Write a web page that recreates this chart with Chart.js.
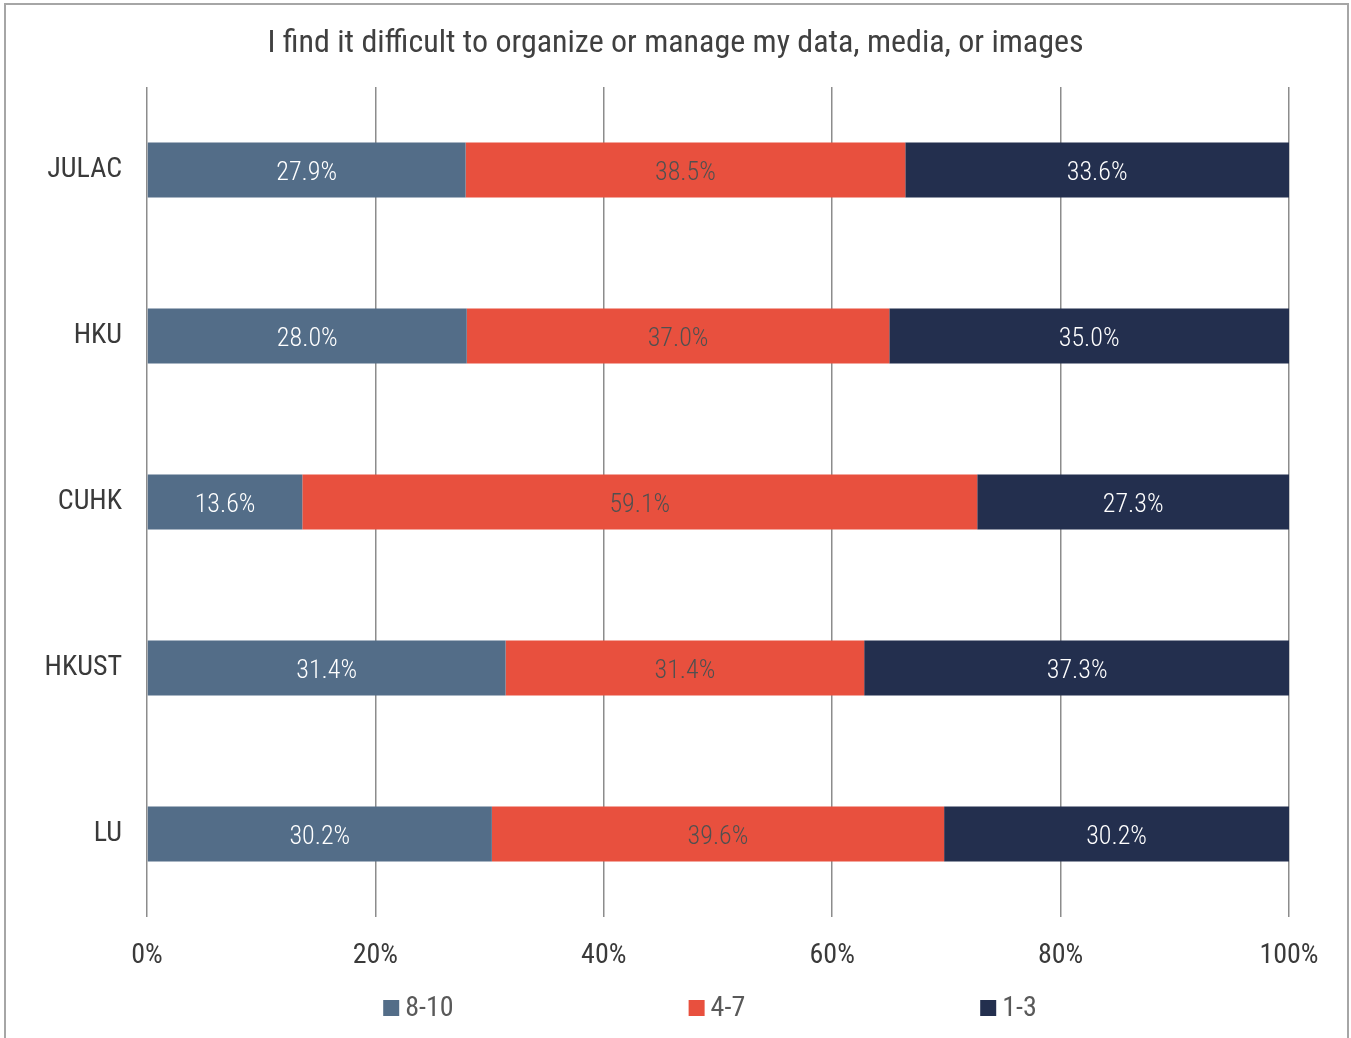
<!DOCTYPE html>
<html>
<head>
<meta charset="utf-8">
<script src="https://cdn.jsdelivr.net/npm/chart.js@4"></script>
<style>
  body { margin: 0; background: #fff; }
  #wrap { position: relative; width: 1351px; height: 1038px; overflow: hidden; }
  #frame { position: absolute; left: 4px; top: 3px; width: 1341px; height: 1100px;
           border: 2px solid #a6a6a6; pointer-events: none; }
</style>
</head>
<body>
<div id="wrap">
  <canvas id="myChart"></canvas>
  <div id="frame"></div>
</div>
<script>
const FONT = "'Roboto Condensed', 'DejaVu Sans Condensed', sans-serif";

const categories = ["JULAC", "HKU", "CUHK", "HKUST", "LU"];
const seriesNames = ["8-10", "4-7", "1-3"];
const high = [27.9, 28.0, 13.6, 31.4, 30.2];
const mid = [38.5, 37.0, 59.1, 31.4, 39.6];
const low = [33.6, 35.0, 27.3, 37.3, 30.2];
const tickLabels = ["0%", "20%", "40%", "60%", "80%", "100%"];

const colors = ["#536d88", "#e8503e", "#232f4e"];
const labelColors = ["#ffffff", "#505050", "#ffffff"];

// value labels centred in each bar segment
const barLabels = {
    id: "barLabels",
    afterDatasetsDraw(chart) {
        const ctx = chart.ctx;
        ctx.save();
        ctx.font = "300 26px " + FONT;
        ctx.textAlign = "center";
        ctx.textBaseline = "middle";
        chart.data.datasets.forEach((ds, i) => {
            const meta = chart.getDatasetMeta(i);
            meta.data.forEach((bar, j) => {
                const p = bar.getProps(["x", "y", "base"], true);
                ctx.fillStyle = labelColors[i];
                ctx.fillText(ds.data[j].toFixed(1) + "%", (p.x + p.base) / 2, p.y + 3);
            });
        });
        ctx.restore();
    },
};

// legend with wide gaps, like the original
const wideLegend = {
    id: "wideLegend",
    afterDraw(chart) {
        const ctx = chart.ctx;
        const area = chart.chartArea;
        const box = 16, gap = 6, spacing = 235;
        ctx.save();
        ctx.font = "28px " + FONT;
        ctx.textBaseline = "middle";
        const widths = seriesNames.map((s) => box + gap + ctx.measureText(s).width);
        const total = widths.reduce((a, b) => a + b, 0) + spacing * (widths.length - 1);
        let x = (area.left + area.right) / 2 - 8 - total / 2;
        const y = 1009;
        seriesNames.forEach((s, i) => {
            ctx.fillStyle = colors[i];
            ctx.fillRect(x, y - box / 2 - 1, box, box);
            ctx.fillStyle = "#595959";
            ctx.fillText(s, x + box + gap, y);
            x += widths[i] + spacing;
        });
        ctx.restore();
    },
};

new Chart(document.getElementById("myChart"), {
    type: "bar",
    data: {
        labels: categories,
        datasets: [
            { label: seriesNames[0], data: high, backgroundColor: colors[0] },
            { label: seriesNames[1], data: mid, backgroundColor: colors[1] },
            { label: seriesNames[2], data: low, backgroundColor: colors[2] },
        ],
    },
    options: {
        indexAxis: "y",
        responsive: true,
        maintainAspectRatio: false,
        animation: false,
        layout: { padding: { left: 0, right: 0, top: 0, bottom: 60 } },
        datasets: { bar: { categoryPercentage: 1, barPercentage: 0.331 } },
        scales: {
            x: {
                stacked: true,
                min: 0,
                max: 100,
                afterFit: (s) => { s.height = 61; },
                afterBuildTicks: (s) => {
                    s.ticks = tickLabels.map((t, i) => ({ value: i * 20 }));
                },
                ticks: {
                    padding: 22,
                    color: "#3a3a3a",
                    font: { family: FONT, size: 28 },
                    callback: (v, i) => tickLabels[i],
                },
                grid: { color: "#8c8c8c", lineWidth: 1.5, drawTicks: false },
                border: { display: false },
            },
            y: {
                stacked: true,
                afterFit: (s) => { s.width = 147; },
                ticks: {
                    padding: 25,
                    color: "#3a3a3a",
                    font: { family: FONT, size: 28 },
                },
                grid: { display: false, drawTicks: false },
                border: { display: false },
            },
            // empty right axis, keeps the plot off the right edge
            yRight: {
                type: "category",
                position: "right",
                afterFit: (s) => { s.width = 62; },
                ticks: { display: false },
                grid: { display: false, drawTicks: false },
                border: { display: false },
            },
        },
        plugins: {
            legend: { display: false },
            tooltip: { enabled: false },
            title: {
                display: true,
                text: "I find it difficult to organize or manage my data, media, or images",
                color: "#404040",
                font: { family: FONT, size: 32, weight: "normal" },
                padding: { top: 25, bottom: 23.6 },
            },
        },
    },
    plugins: [barLabels, wideLegend],
});
</script>
</body>
</html>
